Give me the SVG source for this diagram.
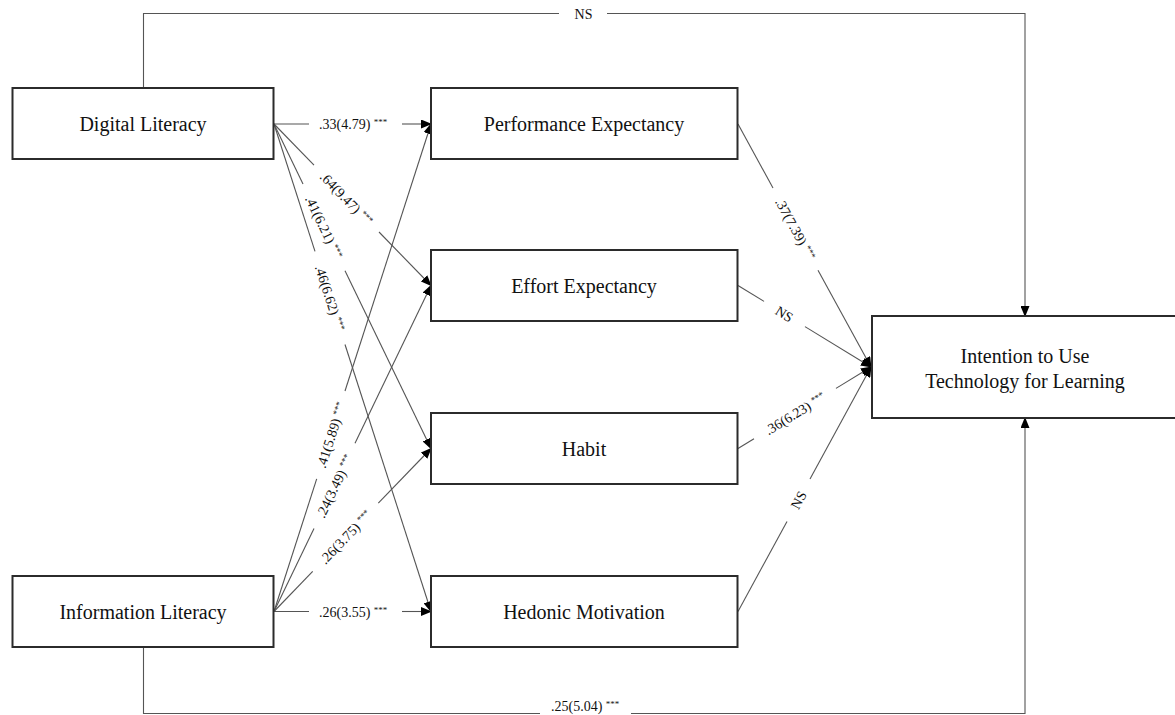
<svg xmlns="http://www.w3.org/2000/svg" width="1175" height="715" viewBox="0 0 1175 715">
<style>
.box{fill:#fff;stroke:#2b2b2b;stroke-width:2}
.nt{font-family:"Liberation Serif","Times New Roman",serif;font-size:20px;fill:#111;text-anchor:middle}
.ln{fill:none;stroke:#555;stroke-width:1.1}
.lb{font-family:"Liberation Serif","Times New Roman",serif;font-size:14px;fill:#111}
.st{font-size:9px}
</style>
<defs>
<marker id="ah" markerUnits="userSpaceOnUse" markerWidth="11" markerHeight="9" refX="10" refY="4.5" orient="auto">
<path d="M0,0 L11,4.5 L0,9 z" fill="#000"/>
</marker>
</defs>
<rect width="1175" height="715" fill="#fff"/>
<g id="connectors">
<line class="ln" x1="274" y1="124" x2="309" y2="124"/>
<line class="ln" x1="402" y1="124" x2="431" y2="124" marker-end="url(#ah)"/>
<line class="ln" x1="274" y1="124" x2="314" y2="165.2"/>
<line class="ln" x1="379" y1="232" x2="431" y2="285.5" marker-end="url(#ah)"/>
<line class="ln" x1="274" y1="124" x2="303" y2="184"/>
<line class="ln" x1="345" y1="270.7" x2="431" y2="448.5" marker-end="url(#ah)"/>
<line class="ln" x1="274" y1="124" x2="315" y2="251.3"/>
<line class="ln" x1="345" y1="344.5" x2="431" y2="611.5" marker-end="url(#ah)"/>
<line class="ln" x1="274" y1="611.5" x2="316.7" y2="478.9"/>
<line class="ln" x1="345" y1="391" x2="431" y2="124" marker-end="url(#ah)"/>
<line class="ln" x1="274" y1="611.5" x2="314" y2="528.4"/>
<line class="ln" x1="355" y1="443.3" x2="431" y2="285.5" marker-end="url(#ah)"/>
<line class="ln" x1="274" y1="611.5" x2="312.7" y2="571.3"/>
<line class="ln" x1="378.3" y1="503.2" x2="431" y2="448.5" marker-end="url(#ah)"/>
<line class="ln" x1="274" y1="611.5" x2="309" y2="611.5"/>
<line class="ln" x1="402" y1="611.5" x2="431" y2="611.5" marker-end="url(#ah)"/>
<line class="ln" x1="738" y1="124" x2="773" y2="188"/>
<line class="ln" x1="818" y1="270.2" x2="871" y2="367" marker-end="url(#ah)"/>
<line class="ln" x1="738" y1="285.5" x2="764" y2="301.4"/>
<line class="ln" x1="805" y1="326.6" x2="871" y2="367" marker-end="url(#ah)"/>
<line class="ln" x1="738" y1="448.5" x2="754" y2="438.7"/>
<line class="ln" x1="836" y1="388.4" x2="871" y2="367" marker-end="url(#ah)"/>
<line class="ln" x1="738" y1="611.5" x2="787" y2="521.4"/>
<line class="ln" x1="810" y1="479.1" x2="871" y2="367" marker-end="url(#ah)"/>
<polyline class="ln" points="143.5,88 143.5,13.5 559,13.5"/>
<polyline class="ln" points="607,13.5 1025,13.5 1025,316" marker-end="url(#ah)"/>
<polyline class="ln" points="143.5,647 143.5,713.5 540,713.5"/>
<polyline class="ln" points="631,713.5 1025,713.5 1025,418" marker-end="url(#ah)"/>
<text class="lb" x="319" y="129">.33(4.79) <tspan class="st" dy="-4">***</tspan></text>
<text class="lb" x="319" y="616.5">.26(3.55) <tspan class="st" dy="-4">***</tspan></text>
<text class="lb" transform="translate(346.5,198.5) rotate(45.8)" text-anchor="middle" y="5">.64(9.47) <tspan class="st" dy="-4">***</tspan></text>
<text class="lb" transform="translate(324,227) rotate(64.2)" text-anchor="middle" y="5">.41(6.21) <tspan class="st" dy="-4">***</tspan></text>
<text class="lb" transform="translate(330,298) rotate(72.15)" text-anchor="middle" y="5">.46(6.62) <tspan class="st" dy="-4">***</tspan></text>
<text class="lb" transform="translate(331,435) rotate(-72.15)" text-anchor="middle" y="5">.41(5.89) <tspan class="st" dy="-4">***</tspan></text>
<text class="lb" transform="translate(334.5,486) rotate(-64.3)" text-anchor="middle" y="5">.24(3.49) <tspan class="st" dy="-4">***</tspan></text>
<text class="lb" transform="translate(345.5,537) rotate(-46.1)" text-anchor="middle" y="5">.26(3.75) <tspan class="st" dy="-4">***</tspan></text>
<text class="lb" transform="translate(795.5,229) rotate(61.3)" text-anchor="middle" y="5">.37(7.39) <tspan class="st" dy="-4">***</tspan></text>
<text class="lb" transform="translate(784.5,314) rotate(31.5)" text-anchor="middle" y="5">NS</text>
<text class="lb" transform="translate(795,413.5) rotate(-31.5)" text-anchor="middle" y="5">.36(6.23) <tspan class="st" dy="-4">***</tspan></text>
<text class="lb" transform="translate(798.5,500) rotate(-61.5)" text-anchor="middle" y="5">NS</text>
<text class="lb" x="583.5" y="19" text-anchor="middle">NS</text>
<text class="lb" x="551" y="711">.25(5.04) <tspan class="st" dy="-4">***</tspan></text>
</g>
<g id="digital-literacy">
<rect class="box" x="12.5" y="88" width="261" height="71"/>
<text class="nt" x="143" y="131">Digital Literacy</text>
</g>
<g id="information-literacy">
<rect class="box" x="12.5" y="576" width="261" height="71"/>
<text class="nt" x="143" y="618.5">Information Literacy</text>
</g>
<g id="performance-expectancy">
<rect class="box" x="431" y="88" width="306.5" height="71"/>
<text class="nt" x="584" y="131">Performance Expectancy</text>
</g>
<g id="effort-expectancy">
<rect class="box" x="431" y="250" width="306.5" height="71"/>
<text class="nt" x="584" y="293">Effort Expectancy</text>
</g>
<g id="habit">
<rect class="box" x="431" y="413" width="306.5" height="71"/>
<text class="nt" x="584" y="456">Habit</text>
</g>
<g id="hedonic-motivation">
<rect class="box" x="431" y="576" width="306.5" height="71"/>
<text class="nt" x="584" y="618.5">Hedonic Motivation</text>
</g>
<g id="intention">
<rect class="box" x="872" y="316" width="306" height="102"/>
<text class="nt" x="1025" y="362.5">Intention to Use</text>
<text class="nt" x="1025" y="387.5">Technology for Learning</text>
</g>
</svg>
